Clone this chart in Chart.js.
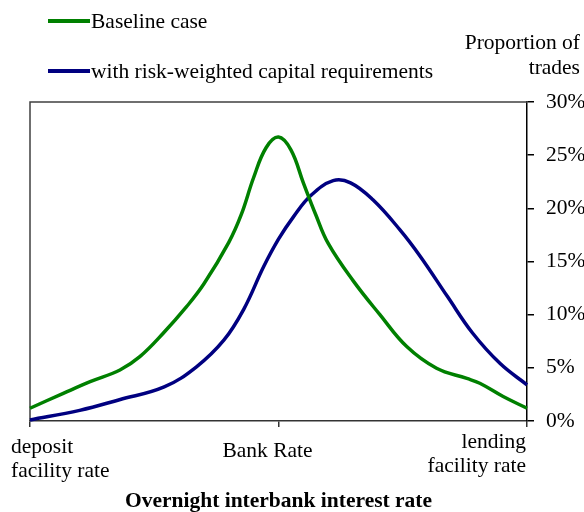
<!DOCTYPE html>
<html>
<head>
<meta charset="utf-8">
<script src="https://cdn.jsdelivr.net/npm/chart.js@4.4.0/dist/chart.umd.min.js"></script>
<style>
  body { margin: 0; background: #fff; }
  #wrap { position: relative; width: 584px; height: 512px; font-family: "Liberation Serif", "Times New Roman", serif; font-size: 21.5px; color: #000; }
  canvas { position: absolute; left: 0; top: 0; }
  .legend-item { position: absolute; left: 48px; height: 24px; line-height: 24px; white-space: nowrap; }
  .legend-item .swatch { position: absolute; left: 0; top: 10px; width: 42px; height: 4px; }
  .legend-item .txt { position: absolute; left: 43px; top: 0; }
  #ytitle { position: absolute; right: 4px; top: 30px; line-height: 25px; text-align: right; }
</style>
</head>
<body>
<div id="wrap">
  <canvas id="chart" width="584" height="512"></canvas>
  <div id="legend"></div>
  <div id="ytitle">Proportion of<br>trades</div>
</div>
<script>
// position along the corridor: 0 = deposit facility rate, 50 = Bank Rate, 100 = lending facility rate
const baselineX = [0, 6.7, 12.1, 18.1, 22.1, 26.8, 31.5, 35, 40, 42.5, 45, 47.5, 50, 52.5, 55, 57.5, 60, 65, 70.4, 75.8, 81.8, 87.9, 90.5, 95.2, 100];
const baselineY = [1.2, 2.6, 3.7, 4.8, 6.05, 8.25, 10.75, 12.9, 16.8, 19.4, 22.9, 25.7, 26.7, 25.5, 22.4, 19.4, 16.7, 13.2, 10.0, 7.0, 4.96, 4.0, 3.55, 2.3, 1.2];

const riskX = [0, 10, 18, 27, 33.5, 39, 43, 47, 50, 53, 56.5, 61, 64.5, 69, 74.4, 78.5, 84, 89, 94.6, 100];
const riskY = [0.1, 1.0, 2.0, 3.2, 5.1, 7.6, 10.5, 14.5, 17.1, 19.2, 21.2, 22.6, 22.4, 20.8, 18.0, 15.5, 11.7, 8.3, 5.4, 3.4];

const seriesLabels = ["Baseline case", "with risk-weighted capital requirements"];
const seriesColors = ["#008000", "#000080"];

const xTickValues = [0, 50, 100];
const xTickLabels = [["deposit", "facility rate"], ["Bank Rate"], ["lending", "facility rate"]];
const xTitle = "Overnight interbank interest rate";

const FONT = "'Liberation Serif', 'Times New Roman', serif";
const FONT_SIZE = 21.5;

function toPoints(xs, ys) {
  return xs.map((x, i) => ({ x: x, y: ys[i] }));
}

// left/top frame of the plot box
const framePlugin = {
  id: "frame",
  beforeDatasetsDraw(chart) {
    const { ctx, chartArea: a } = chart;
    ctx.save();
    ctx.strokeStyle = "#404040";
    ctx.lineWidth = 1.5;
    ctx.beginPath();
    ctx.moveTo(a.left, a.bottom);
    ctx.lineTo(a.left, a.top);
    ctx.lineTo(a.right, a.top);
    ctx.stroke();
    ctx.restore();
  }
};

// corridor labels under the x ticks
const xLabelPlugin = {
  id: "xLabels",
  afterDraw(chart) {
    const ctx = chart.ctx;
    const scale = chart.scales.x;
    const bottom = chart.chartArea.bottom;
    const place = [
      { dx: -19, dy: 26, align: "left" },
      { dx: -11, dy: 30, align: "center" },
      { dx: -1, dy: 21, align: "right" }
    ];
    ctx.save();
    ctx.fillStyle = "#000";
    ctx.font = FONT_SIZE + "px " + FONT;
    ctx.textBaseline = "middle";
    xTickValues.forEach((v, i) => {
      const x = scale.getPixelForValue(v) + place[i].dx;
      ctx.textAlign = place[i].align;
      xTickLabels[i].forEach((line, j) => {
        ctx.fillText(line, x, bottom + place[i].dy + j * 24);
      });
    });
    ctx.restore();
  }
};

const chart = new Chart(document.getElementById("chart"), {
  type: "line",
  data: {
    datasets: [
      {
        label: seriesLabels[0],
        data: toPoints(baselineX, baselineY),
        borderColor: seriesColors[0],
        backgroundColor: seriesColors[0],
        borderWidth: 3.5,
        pointRadius: 0,
        tension: 0.4,
        clip: false
      },
      {
        label: seriesLabels[1],
        data: toPoints(riskX, riskY),
        borderColor: seriesColors[1],
        backgroundColor: seriesColors[1],
        borderWidth: 3.5,
        pointRadius: 0,
        tension: 0.4,
        clip: false
      }
    ]
  },
  options: {
    responsive: false,
    animation: false,
    devicePixelRatio: 1,
    layout: { padding: { left: 30, top: 102, right: 0, bottom: 0 } },
    plugins: {
      legend: { display: false },
      tooltip: { enabled: false }
    },
    scales: {
      x: {
        type: "linear",
        min: 0,
        max: 100,
        afterBuildTicks(scale) {
          scale.ticks = xTickValues.map((v) => ({ value: v }));
        },
        afterFit(scale) {
          scale.height = 91;
        },
        ticks: { display: false },
        grid: {
          drawOnChartArea: false,
          drawTicks: true,
          tickLength: 6,
          color: "#333",
          lineWidth: 1.5
        },
        border: { color: "#333", width: 1.5 },
        title: {
          display: true,
          text: xTitle,
          color: "#000",
          padding: 0,
          font: { family: FONT, size: FONT_SIZE, weight: "bold", lineHeight: 1 }
        }
      },
      y: {
        position: "right",
        min: 0,
        max: 30,
        afterFit(scale) {
          scale.width = 57;
        },
        ticks: {
          stepSize: 5,
          padding: 12,
          color: "#000",
          font: { family: FONT, size: FONT_SIZE },
          callback: (v) => v + "%"
        },
        grid: {
          drawOnChartArea: false,
          drawTicks: true,
          tickLength: 7,
          color: "#000",
          lineWidth: 1.5
        },
        border: { color: "#000", width: 1.5 }
      }
    }
  },
  plugins: [framePlugin, xLabelPlugin]
});

// legend rows built from the chart's datasets
const legendTops = [9, 59];
const legend = document.getElementById("legend");
chart.data.datasets.forEach((ds, i) => {
  const row = document.createElement("div");
  row.className = "legend-item";
  row.style.top = legendTops[i] + "px";
  const sw = document.createElement("span");
  sw.className = "swatch";
  sw.style.background = ds.borderColor;
  const t = document.createElement("span");
  t.className = "txt";
  t.textContent = ds.label;
  row.appendChild(sw);
  row.appendChild(t);
  legend.appendChild(row);
});
</script>
</body>
</html>
